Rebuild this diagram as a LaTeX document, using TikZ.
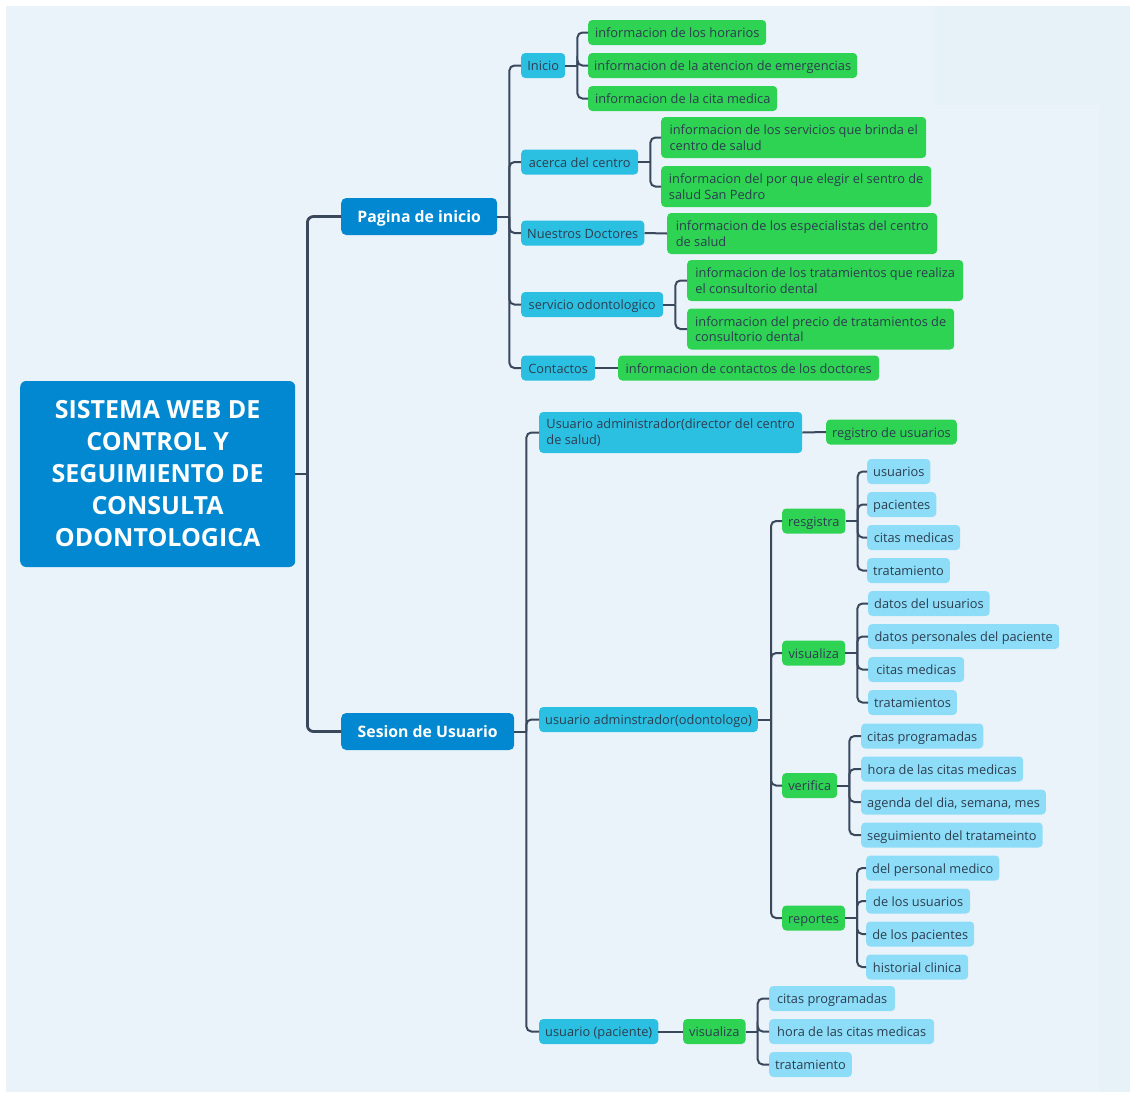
\documentclass[tikz,border=0pt]{standalone}
\usepackage{fontspec}
\setmainfont{Open Sans}
\usetikzlibrary{calc}
\definecolor{pagebg}{HTML}{EBF3FA}
\definecolor{pagetint}{HTML}{E6F1F8}
\definecolor{bluec}{HTML}{0288D1}
\definecolor{cyanc}{HTML}{2BC0E2}
\definecolor{greenc}{HTML}{2ED353}
\definecolor{palec}{HTML}{8EDDF8}
\definecolor{linec}{HTML}{3A485C}
\definecolor{textc}{HTML}{2C3E50}
\tikzset{
  box/.style={rounded corners=4, inner xsep=6, inner ysep=2, minimum height=25,
    text height=12.6, text depth=2.4,
    font=\fontsize{12.8}{15.5}\selectfont, text=textc, anchor=west},
  lvlA/.style={box, fill=cyanc},
  lvlG/.style={box, fill=greenc},
  lvlP/.style={box, fill=palec},
  two/.style={minimum height=41, align=left, inner xsep=5, text height={}, text depth={}},
  mainbox/.style={rounded corners=5, fill=bluec, text=white, inner xsep=6,
    text height=14, text depth=2,
    font=\bfseries\fontsize{15.8}{18}\selectfont, minimum height=37, anchor=west},
  rootbox/.style={rounded corners=6, fill=bluec, text=white, align=center,
    minimum width=275, minimum height=186, anchor=west,
    font=\bfseries\fontsize{25}{32}\selectfont},
  conn/.style={draw=linec, line width=2, rounded corners=5},
  connroot/.style={draw=linec, line width=2.8, rounded corners=6},
}
\begin{document}
\begin{tikzpicture}[x=1pt,y=-1pt]
\useasboundingbox (0,0) rectangle (1130,1093);
\fill[white] (0,0) rectangle (1130,1093);
\fill[pagebg] (6,6) rectangle (1130,1092);
\fill[pagetint] (934,6) rectangle (1130,105);
\fill[pagetint] (1099,105) rectangle (1130,1092);

% root and main branches
\node[rootbox] (root) at (20,474) {SISTEMA WEB DE\\CONTROL Y\\SEGUIMIENTO DE\\CONSULTA\\ODONTOLOGICA};
\node[mainbox, minimum width=156] (pag) at (341,216.5) {Pagina de inicio};
\node[mainbox, minimum width=173] (ses) at (341,731.5) {Sesion de Usuario};

% Pagina de inicio
\node[lvlA, minimum width=44]  (ini) at (521,65.5) {Inicio};
\node[lvlA, minimum width=117] (ace) at (521,162) {acerca del centro};
\node[lvlA, minimum width=121] (nue) at (521,233) {Nuestros Doctores};
\node[lvlA, minimum width=142] (ser) at (521,304.5) {servicio odontologico};
\node[lvlA, minimum width=74]  (con) at (521,368) {Contactos};

\node[lvlG, minimum width=178] (h1) at (588,32.5) {informacion de los horarios};
\node[lvlG, minimum width=269] (h2) at (588,65.5) {informacion de la atencion de emergencias};
\node[lvlG, minimum width=189] (h3) at (588,98.5) {informacion de la cita medica};
\node[lvlG, two, minimum width=265] (a1) at (661,137.5) {informacion de los servicios que brinda el\\centro de salud};
\node[lvlG, two, minimum width=270] (a2) at (661,186.5) {informacion del por que elegir el sentro de\\salud San Pedro};
\node[lvlG, two, minimum width=270] (n1) at (667,233.5) {informacion de los especialistas del centro\\de salud};
\node[lvlG, two, minimum width=276] (s1) at (687,280.5) {informacion de los tratamientos que realiza\\el consultorio dental};
\node[lvlG, two, minimum width=267] (s2) at (687,329) {informacion del precio de tratamientos de\\consultorio dental};
\node[lvlG, minimum width=261] (c1) at (618,368) {informacion de contactos de los doctores};

% Sesion de Usuario
\node[lvlA, two, minimum width=263] (uad) at (539,432.5) {Usuario administrador(director del centro\\de salud)};
\node[lvlA, minimum width=218] (uod) at (539,719.5) {usuario adminstrador(odontologo)};
\node[lvlA, minimum width=119] (upa) at (539,1031.5) {usuario (paciente)};

\node[lvlG, minimum width=130] (reg) at (826,432) {registro de usuarios};

\node[lvlG, minimum width=61] (rsg) at (782,521) {resgistra};
\node[lvlG, minimum width=63] (vis) at (782,653) {visualiza};
\node[lvlG, minimum width=55] (ver) at (782,785.5) {verifica};
\node[lvlG, minimum width=60] (rep) at (782,918) {reportes};
\node[lvlG, minimum width=62] (vip) at (683,1031.5) {visualiza};

\node[lvlP, minimum width=61]  (r1) at (867,471.5) {usuarios};
\node[lvlP, minimum width=68]  (r2) at (867,504.5) {pacientes};
\node[lvlP, minimum width=93]  (r3) at (867,537.5) {citas medicas};
\node[lvlP, minimum width=81]  (r4) at (867,570.5) {tratamiento};

\node[lvlP, minimum width=121] (v1) at (868,603.5) {datos del usuarios};
\node[lvlP, minimum width=191] (v2) at (868,636.5) {datos personales del paciente};
\node[lvlP, minimum width=96]  (v3) at (868,669.5) {citas medicas};
\node[lvlP, minimum width=87]  (v4) at (868,702.5) {tratamientos};

\node[lvlP, minimum width=122] (e1) at (861,736) {citas programadas};
\node[lvlP, minimum width=162] (e2) at (861,769) {hora de las citas medicas};
\node[lvlP, minimum width=184] (e3) at (861,802) {agenda del dia, semana, mes};
\node[lvlP, minimum width=180] (e4) at (861,835) {seguimiento del tratameinto};

\node[lvlP, minimum width=133] (p1) at (866,868) {del personal medico};
\node[lvlP, minimum width=104] (p2) at (866,901) {de los usuarios};
\node[lvlP, minimum width=108] (p3) at (866,934) {de los pacientes};
\node[lvlP, minimum width=102] (p4) at (866,967) {historial clinica};

\node[lvlP, minimum width=126] (q1) at (769,998.5) {citas programadas};
\node[lvlP, minimum width=165] (q2) at (769,1031.5) {hora de las citas medicas};
\node[lvlP, minimum width=80]  (q3) at (769,1064.5) {tratamiento};

% connectors: root
\draw[connroot] (root.east) -- ++(12,0) coordinate (rj);
\foreach \c in {pag,ses} \draw[connroot] (rj) |- (\c.west);

% Pagina de inicio
\draw[conn] (pag.east) -- ++(12,0) coordinate (pj);
\foreach \c in {ini,ace,nue,ser,con} \draw[conn] (pj) |- (\c.west);
\draw[conn] (ini.east) -- ++(12,0) coordinate (ij);
\foreach \c in {h1,h2,h3} \draw[conn] (ij) |- (\c.west);
\draw[conn] (ace.east) -- ++(12,0) coordinate (aj);
\foreach \c in {a1,a2} \draw[conn] (aj) |- (\c.west);
\draw[conn] (nue.east) -- (n1.west);
\draw[conn] (ser.east) -- ++(12,0) coordinate (sj);
\foreach \c in {s1,s2} \draw[conn] (sj) |- (\c.west);
\draw[conn] (con.east) -- (c1.west);

% Sesion de Usuario
\draw[conn] (ses.east) -- ++(12,0) coordinate (uj);
\foreach \c in {uad,uod,upa} \draw[conn] (uj) |- (\c.west);
\draw[conn] (uad.east) -- (reg.west);
\draw[conn] (uod.east) -- ++(13,0) coordinate (oj);
\foreach \c in {rsg,vis,ver,rep} \draw[conn] (oj) |- (\c.west);
\draw[conn] (rsg.east) -- ++(12,0) coordinate (gj);
\foreach \c in {r1,r2,r3,r4} \draw[conn] (gj) |- (\c.west);
\draw[conn] (vis.east) -- ++(12,0) coordinate (vj);
\foreach \c in {v1,v2,v3,v4} \draw[conn] (vj) |- (\c.west);
\draw[conn] (ver.east) -- ++(12,0) coordinate (ej);
\foreach \c in {e1,e2,e3,e4} \draw[conn] (ej) |- (\c.west);
\draw[conn] (rep.east) -- ++(12,0) coordinate (qj);
\foreach \c in {p1,p2,p3,p4} \draw[conn] (qj) |- (\c.west);
\draw[conn] (upa.east) -- (vip.west);
\draw[conn] (vip.east) -- ++(12,0) coordinate (wj);
\foreach \c in {q1,q2,q3} \draw[conn] (wj) |- (\c.west);
\end{tikzpicture}
\end{document}
